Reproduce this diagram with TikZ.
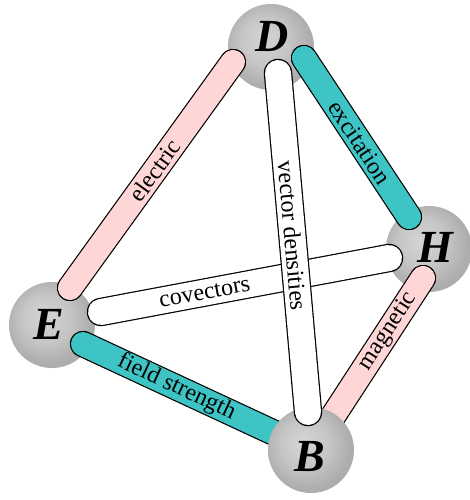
\documentclass[tikz,border=0pt]{standalone}
\usepackage{fontspec}
\setmainfont{Liberation Serif}
\usetikzlibrary{calc}

\definecolor{tubepink}{RGB}{255,214,214}
\definecolor{tubeteal}{RGB}{62,196,196}
\pgfdeclareradialshading{sphereshade}{\pgfpoint{-5bp}{5bp}}{color(0bp)=(gray!33); color(14bp)=(gray!45); color(25bp)=(gray!64); color(50bp)=(gray!64)}

\tikzset{
  ball/.style={circle, minimum size=86pt, inner sep=0pt, shading=sphereshade},
  letter/.style={font=\fontsize{46}{46}\selectfont\bfseries\itshape},
  tube/.style={draw=black, line width=1.2pt, double distance=24pt, line cap=round},
  widetube/.style={tube, double=white, double distance=26pt},
  tubetext/.style={sloped, inner sep=0pt, font=\fontsize{24}{24}\selectfont},
}

\begin{document}
\begin{tikzpicture}[x=1pt, y=-1pt]
\useasboundingbox (0,0) rectangle (469,500);

% spheres that lie behind the tubes
\node[ball] (E) at (52,325) {};
\node[ball] (D) at (271,47) {};
\node[ball] (H) at (429,249) {};
\coordinate (Bc) at (311,450);

% tube ends
\coordinate (elE) at ($(E)+(18,-37)$);
\coordinate (elD) at ($(D)+(-38,15)$);
\coordinate (exD) at ($(D)+(33,11)$);
\coordinate (exH) at ($(H)+(-20,-32)$);
\coordinate (vdD) at ($(D)+(7,26)$);
\coordinate (vdB) at ($(Bc)+(-3,-38)$);
\coordinate (cvE) at ($(E)+(49,-13)$);
\coordinate (cvH) at ($(H)+(-40,9)$);
\coordinate (mgH) at ($(H)+(-6,29)$);
\coordinate (fsE) at ($(E)+(31,19)$);

% these two run behind B
\draw[tube, double=tubeteal] (fsE) -- (Bc) node[tubetext, pos=0.41] (fstext) {field strength};
\draw[tube, double=tubepink] (Bc) -- (mgH) node[tubetext, pos=0.69] (mgtext) {magnetic};

\node[ball] (B) at (Bc) {};

\draw[tube, double=tubepink] (elE) -- (elD) node[tubetext, pos=0.52] (eltext) {electric};
\draw[tube, double=tubeteal] (exD) -- (exH) node[tubetext, pos=0.53] (extext) {excitation};
\draw[widetube] (cvE) -- (cvH) node[tubetext, pos=0.36] (cvtext) {covectors};
\draw[widetube] (vdD) -- (vdB) node[tubetext, pos=0.48] (vdtext) {vector densities};

% letters
\node[letter] (Dlabel) at ($(D)+(1,-11)$) {D};
\node[letter] (Elabel) at ($(E)+(-3,-1)$) {E};
\node[letter] (Hlabel) at ($(H)+(6,-2)$) {H};
\node[letter] (Blabel) at ($(Bc)+(-1,7)$) {B};

\end{tikzpicture}
\end{document}
